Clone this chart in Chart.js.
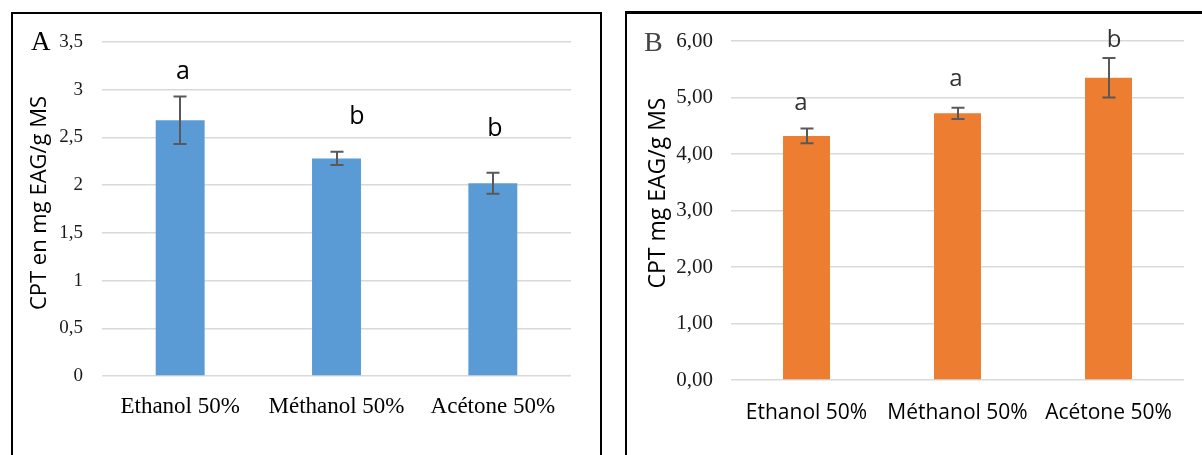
<!DOCTYPE html>
<html>
<head>
<meta charset="utf-8">
<title>CPT</title>
<script src="https://cdn.jsdelivr.net/npm/chart.js@4.4.1/dist/chart.umd.min.js"></script>
<style>
  html, body { margin: 0; padding: 0; background: #fff; }
  body { width: 1202px; height: 455px; position: relative; overflow: hidden; }
  canvas { position: absolute; top: 0; }
  #cA { left: 0; }
  #cB { left: 603px; }
  .frame { position: absolute; border-color: #000; border-style: solid; pointer-events: none; }
  #fA { left: 11px; top: 12px; width: 587px; height: 460px; border-width: 2px 2px 0 2px; }
  #fB { left: 625px; top: 11px; width: 600px; height: 460px; border-width: 3px 0 0 2px; }
</style>
</head>
<body>
<canvas id="cA" width="603" height="455"></canvas>
<canvas id="cB" width="599" height="455"></canvas>
<div class="frame" id="fA"></div>
<div class="frame" id="fB"></div>
<script>
// Solvents compared
const categories = ['Ethanol 50%', 'Méthanol 50%', 'Acétone 50%'];

// Panel A: CPT en mg EAG/g MS
const valuesA = [2.68, 2.28, 2.02];
const errorsA = [0.25, 0.07, 0.11];
const lettersA = ['a', 'b', 'b'];
const tickLabelsA = ['0', '0,5', '1', '1,5', '2', '2,5', '3', '3,5'];

// Panel B: CPT mg EAG/g MS
const valuesB = [4.32, 4.72, 5.35];
const errorsB = [0.13, 0.10, 0.35];
const lettersB = ['a', 'a', 'b'];
const tickLabelsB = ['0,00', '1,00', '2,00', '3,00', '4,00', '5,00', '6,00'];

const SERIF = '"Liberation Serif", "Times New Roman", serif';
const SANS = '"Open Sans", "Noto Sans", sans-serif';

// Error bars, significance letters, axis title and panel letter
const annotate = {
  id: 'annotate',
  afterDatasetsDraw(chart, args, o) {
    const ctx = chart.ctx;
    const yScale = chart.scales.y;
    const meta = chart.getDatasetMeta(0);
    const vals = chart.data.datasets[0].data;
    ctx.save();
    meta.data.forEach((bar, i) => {
      const cx = Math.round(bar.x);
      const top = yScale.getPixelForValue(vals[i] + o.errors[i]);
      const bot = yScale.getPixelForValue(vals[i] - o.errors[i]);
      ctx.strokeStyle = o.errColor;
      ctx.lineWidth = 2;
      ctx.beginPath();
      ctx.moveTo(cx, top); ctx.lineTo(cx, bot);
      ctx.moveTo(cx - o.cap, top); ctx.lineTo(cx + o.cap, top);
      ctx.moveTo(cx - o.cap, bot); ctx.lineTo(cx + o.cap, bot);
      ctx.stroke();

      ctx.fillStyle = o.letterColor;
      ctx.font = o.letterFont;
      ctx.textAlign = 'center';
      ctx.textBaseline = 'alphabetic';
      ctx.fillText(o.letters[i], cx + o.letterDx[i], top - o.letterGap[i]);
    });

    // rotated axis title
    ctx.save();
    ctx.translate(o.title.x, o.title.y);
    ctx.rotate(-Math.PI / 2);
    ctx.fillStyle = '#000';
    ctx.font = o.title.font;
    ctx.textAlign = 'center';
    ctx.textBaseline = 'middle';
    ctx.fillText(o.title.text, 0, 0);
    ctx.restore();

    // panel letter
    ctx.fillStyle = o.panel.color;
    ctx.font = o.panel.font;
    ctx.textAlign = 'left';
    ctx.textBaseline = 'alphabetic';
    if (o.panel.blur) ctx.filter = 'blur(' + o.panel.blur + 'px)';
    ctx.fillText(o.panel.text, o.panel.x, o.panel.y);
    ctx.restore();
  }
};

function makeChart(id, cfg) {
  return new Chart(document.getElementById(id), {
    type: 'bar',
    data: {
      labels: categories,
      datasets: [{
        data: cfg.values,
        backgroundColor: cfg.color,
        borderWidth: 0,
        barPercentage: cfg.barPct,
        categoryPercentage: 1
      }]
    },
    options: {
      responsive: false,
      animation: false,
      devicePixelRatio: 1,
      layout: { padding: cfg.padding },
      plugins: {
        legend: { display: false },
        tooltip: { enabled: false },
        annotate: cfg.annotate
      },
      scales: {
        x: {
          grid: { display: false, drawTicks: false },
          border: { display: false },
          ticks: { font: cfg.xFont, color: '#000', padding: cfg.xPad, maxRotation: 0 },
          afterFit: s => { s.height = cfg.xHeight; }
        },
        y: {
          min: 0,
          max: cfg.max,
          border: { display: false },
          grid: { color: '#D9D9D9', lineWidth: 1.4, drawTicks: false },
          ticks: {
            stepSize: cfg.step,
            font: cfg.yFont,
            color: '#1a1a1a',
            padding: cfg.yPad,
            callback: (v, i) => cfg.tickLabels[i]
          },
          afterFit: s => { s.width = cfg.yWidth; }
        }
      }
    },
    plugins: [annotate]
  });
}

makeChart('cA', {
  values: valuesA,
  color: '#5B9BD5',
  barPct: 0.313,
  max: 3.5,
  step: 0.5,
  tickLabels: tickLabelsA,
  padding: { left: 0, top: 42, right: 32, bottom: 0 },
  yWidth: 102,
  xHeight: 79,
  yPad: 19,
  xPad: 17,
  yFont: { family: SERIF, size: 19 },
  xFont: { family: SERIF, size: 23 },
  annotate: {
    errors: errorsA,
    letters: lettersA,
    letterDx: [3, 20, 2],
    letterGap: [17, 28, 37],
    letterFont: '25px ' + SANS,
    letterColor: '#000',
    errColor: '#595959',
    cap: 6.5,
    title: { text: 'CPT en mg EAG/g MS', x: 40, y: 203, font: '22px ' + SANS },
    panel: { text: 'A', x: 31, y: 50, font: '27px ' + SERIF, color: '#000' }
  }
});

makeChart('cB', {
  values: valuesB,
  color: '#ED7D31',
  barPct: 0.311,
  max: 6,
  step: 1,
  tickLabels: tickLabelsB,
  padding: { left: 0, top: 41, right: 18, bottom: 0 },
  yWidth: 128,
  xHeight: 75,
  yPad: 18,
  xPad: 20,
  yFont: { family: SERIF, size: 21 },
  xFont: { family: SANS, size: 21 },
  annotate: {
    errors: errorsB,
    letters: lettersB,
    letterDx: [-6, -2, 5],
    letterGap: [19, 22, 11],
    letterFont: '24px ' + SANS,
    letterColor: '#333',
    errColor: '#595959',
    cap: 6.5,
    title: { text: 'CPT mg EAG/g MS', x: 55, y: 193, font: '23px ' + SANS },
    panel: { text: 'B', x: 41, y: 51, font: '28px ' + SERIF, color: '#444', blur: 0.5 }
  }
});
</script>
</body>
</html>
